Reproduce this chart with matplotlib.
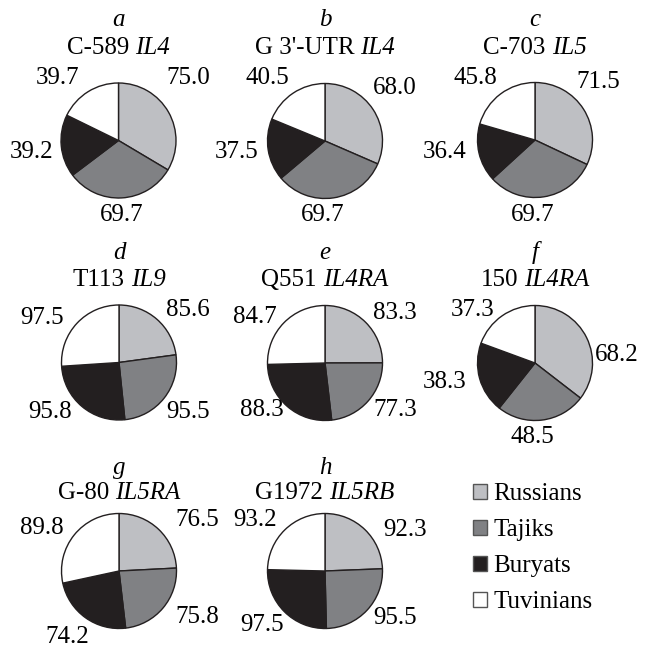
import matplotlib
matplotlib.use('Agg')
import matplotlib.pyplot as plt

plt.rcParams['font.family'] = 'Liberation Serif'

# Data
panels = ['a', 'b', 'c', 'd', 'e', 'f', 'g', 'h']
loci = ['C-589', "G 3'-UTR", 'C-703', 'T113', 'Q551', '150', 'G-80', 'G1972']
genes = ['IL4', 'IL4', 'IL5', 'IL9', 'IL4RA', 'IL4RA', 'IL5RA', 'IL5RB']
groups = ['Russians', 'Tajiks', 'Buryats', 'Tuvinians']
russians = [75.0, 68.0, 71.5, 85.6, 83.3, 68.2, 76.5, 92.3]
tajiks = [69.7, 69.7, 69.7, 95.5, 77.3, 48.5, 75.8, 95.5]
buryats = [39.2, 37.5, 36.4, 95.8, 88.3, 38.3, 74.2, 97.5]
tuvinians = [39.7, 40.5, 45.8, 97.5, 84.7, 37.3, 89.8, 93.2]

colors = ['#bebfc3', '#808184', '#231f20', '#ffffff']

# Layout (pixels, y measured from top)
W, H = 646, 651
R = 57.5
centers = [(118.5, 140.5), (325, 141), (535, 140),
           (119, 362.5), (325, 363), (535, 363),
           (119, 571), (325, 571)]
letter_y = [20, 20, 20, 253, 253, 253, 468, 468]
gene_y = [48, 48, 48, 280, 280, 280, 493, 493]
# label offsets from pie center, order: Russians, Tajiks, Buryats, Tuvinians
offsets = [
    [(69.5, -62.5), (3.5, 74.5), (-86.5, 11.5), (-60.5, -62.5)],
    [(70, -53), (-2, 74), (-88, 11), (-58, -63)],
    [(63, -58), (-2, 75), (-90, 12), (-60, -62)],
    [(69, -52), (69, 50), (-69, 50), (-77, -45)],
    [(70, -50), (70, 47), (-63, 47), (-70, -46)],
    [(82, -8), (-3, 74), (-90, 19), (-62, -53)],
    [(78, -51), (78, 46), (-52, 66), (-77, -43)],
    [(80, -41), (70, 47), (-63, 54), (-70, -51)],
]

fs = 18

fig = plt.figure(figsize=(W / 100, H / 100), dpi=100)
ax = fig.add_axes([0, 0, 1, 1])
renderer = fig.canvas.get_renderer()
gap = 0.25 * fs * 100 / 72

wedges = None
for i in range(len(panels)):
    vals = [russians[i], tajiks[i], buryats[i], tuvinians[i]]
    cx, cy = centers[i]
    w, _ = ax.pie(vals, colors=colors, startangle=90, counterclock=False,
                  center=(cx, H - cy), radius=R,
                  wedgeprops=dict(edgecolor='#231f20', linewidth=1.0))
    if wedges is None:
        wedges = w
    for v, (dx, dy) in zip(vals, offsets[i]):
        ax.text(cx + dx, H - cy - dy, f'{v:.1f}', ha='center', va='center',
                fontsize=fs)
    ax.text(cx, H - letter_y[i], panels[i], ha='center', va='center',
            fontsize=fs, style='italic')

    # locus name upright, gene name italic, centred together
    t1 = ax.text(0, H - gene_y[i], loci[i], ha='left', va='center', fontsize=fs)
    t2 = ax.text(0, H - gene_y[i], genes[i], ha='left', va='center',
                 fontsize=fs, style='italic')
    w1 = t1.get_window_extent(renderer).width
    w2 = t2.get_window_extent(renderer).width
    x0 = cx - (w1 + gap + w2) / 2
    t1.set_x(x0)
    t2.set_x(x0 + w1 + gap)

ax.set_xlim(0, W)
ax.set_ylim(0, H)
ax.set_aspect('equal')
ax.axis('off')

leg = ax.legend(wedges, groups, loc='upper left',
                bbox_to_anchor=(473 / W, 1 - 483 / H), bbox_transform=fig.transFigure,
                frameon=False, fontsize=fs, handlelength=0.56, handleheight=0.56,
                handletextpad=0.25, labelspacing=0.56, borderpad=0, borderaxespad=0)
for h in leg.legend_handles:
    h.set_linewidth(1.0)
    h.set_edgecolor('#555555')

fig.savefig('out.png', dpi=100, facecolor='white')
